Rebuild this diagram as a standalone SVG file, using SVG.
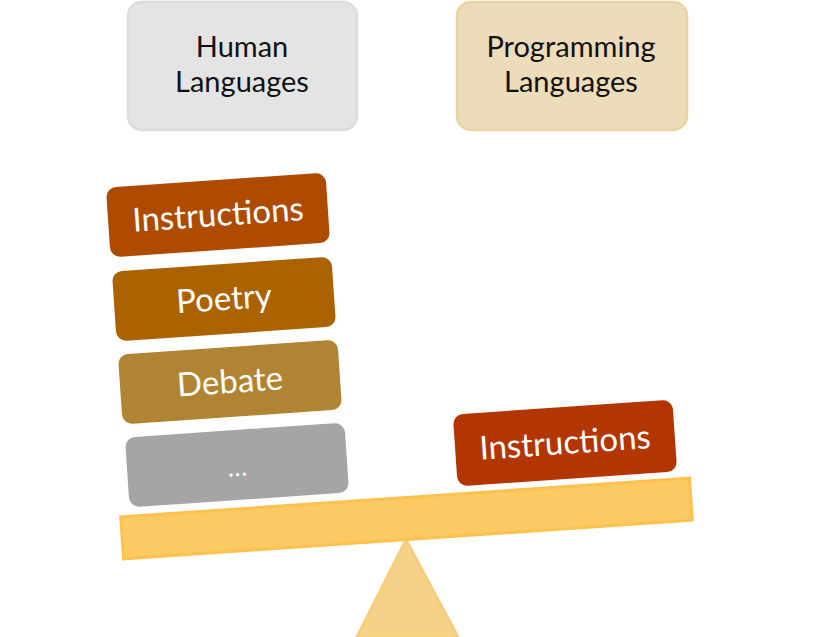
<svg xmlns="http://www.w3.org/2000/svg" width="813" height="637" viewBox="0 0 813 637">
<style>
.hdr{font-family:Lato,"Liberation Sans",sans-serif;font-size:29px;fill:#111;text-anchor:middle}
.lbl{font-family:Lato,"Liberation Sans",sans-serif;font-size:33px;fill:#fff;text-anchor:middle}
.blk{stroke:none}
</style>
<rect width="813" height="637" fill="#fff"/>
<g id="human-languages">
<rect x="128" y="2" width="229" height="128" rx="14" fill="#e4e4e4" stroke="#dcdcdc" stroke-width="2.5"/>
<text class="hdr" x="242" y="57">Human</text>
<text class="hdr" x="242" y="92">Languages</text>
</g>
<g id="programming-languages">
<rect x="457" y="2" width="230" height="128" rx="14" fill="#eddcb9" stroke="#e9d3a4" stroke-width="2.5"/>
<text class="hdr" x="571" y="57">Programming</text>
<text class="hdr" x="571" y="92">Languages</text>
</g>
<g id="fulcrum">
<polygon points="406,540 357,637 458,637" fill="#f4d289" stroke="#f7cd7a" stroke-width="3"/>
</g>
<g id="beam">
<rect x="-285" y="-21" width="570" height="42" transform="translate(406.5,518.5) rotate(-3.9)" fill="#fdc962" stroke="#fbc24f" stroke-width="3"/>
</g>
<g id="left-instructions" transform="translate(218,215) rotate(-3.9)">
<rect class="blk" x="-110" y="-35" width="220" height="70" rx="10" fill="#ae4b00"/>
<text class="lbl" x="0" y="11">Instructions</text>
</g>
<g id="poetry" transform="translate(224,299) rotate(-3.9)">
<rect class="blk" x="-110" y="-35" width="220" height="70" rx="10" fill="#ab6200"/>
<text class="lbl" x="0" y="11">Poetry</text>
</g>
<g id="debate" transform="translate(230,382) rotate(-3.9)">
<rect class="blk" x="-110" y="-35" width="220" height="70" rx="10" fill="#b08432"/>
<text class="lbl" x="0" y="11">Debate</text>
</g>
<g id="more" transform="translate(237,465) rotate(-3.9)">
<rect class="blk" x="-110" y="-35" width="220" height="70" rx="10" fill="#a5a5a5"/>
<text class="lbl" x="0" y="11" style="font-size:26px">…</text>
</g>
<g id="right-instructions" transform="translate(565,443) rotate(-3.9)">
<rect class="blk" x="-110" y="-36" width="220" height="72" rx="10" fill="#b33500"/>
<text class="lbl" x="0" y="11">Instructions</text>
</g>
<g id="connectors"/>
</svg>
